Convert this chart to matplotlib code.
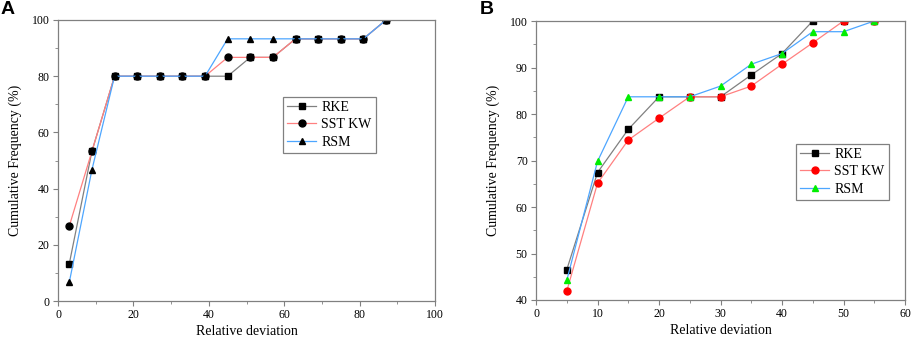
import numpy as np
import matplotlib
matplotlib.use("Agg")
import matplotlib.pyplot as plt
from matplotlib.ticker import MultipleLocator

# ---- panel A: relative deviation vs cumulative frequency ----
xa = [3, 9, 15, 21, 27, 33, 39, 45, 51, 57, 63, 69, 75, 81, 87]
rke_a = [13.3, 53.3, 80, 80, 80, 80, 80, 80, 86.7, 86.7, 93.3, 93.3, 93.3, 93.3, 100]
sst_a = [26.7, 53.3, 80, 80, 80, 80, 80, 86.7, 86.7, 86.7, 93.3, 93.3, 93.3, 93.3, 100]
rsm_a = [6.7, 46.7, 80, 80, 80, 80, 80, 93.3, 93.3, 93.3, 93.3, 93.3, 93.3, 93.3, 100]

# ---- panel B ----
xb = [5, 10, 15, 20, 25, 30, 35, 40, 45, 50, 55]
rke_b = [46.5, 67.4, 76.7, 83.7, 83.7, 83.7, 88.4, 93.0, 100, 100, 100]
sst_b = [41.9, 65.1, 74.4, 79.1, 83.7, 83.7, 86.0, 90.7, 95.3, 100, 100]
rsm_b = [44.2, 69.8, 83.7, 83.7, 83.7, 86.0, 90.7, 93.0, 97.7, 97.7, 100]

labels = ["RKE", "SST KW", "RSM"]
line_colors = ["#808080", "#ff8080", "#4da6ff"]

plt.rcParams["font.family"] = ["Liberation Serif", "DejaVu Serif"]

fig = plt.figure(figsize=(9.13, 3.39), dpi=100)
axA = fig.add_axes([58 / 913, 1 - 301 / 339, 377 / 913, 281 / 339])
axB = fig.add_axes([536 / 913, 1 - 300 / 339, 369 / 913, 279 / 339])


def style(ax):
    for s in ax.spines.values():
        s.set_color("#808080")
        s.set_linewidth(0.9)
    ax.tick_params(which="both", direction="out", color="#808080", labelsize=8.5,
                   pad=2.5)
    ax.tick_params(which="major", length=3.5, width=0.8)
    ax.tick_params(which="minor", length=2, width=0.6)
    ax.set_xlabel("Relative deviation", fontsize=10, labelpad=2.5)
    ax.set_ylabel("Cumulative Frequency (%)", fontsize=10, labelpad=7)


def add_legend(ax, anchor):
    leg = ax.legend(loc="upper left", bbox_to_anchor=anchor, fontsize=10,
                    fancybox=False, edgecolor="#808080", framealpha=1,
                    handlelength=2.1, handletextpad=0.35, labelspacing=0.3,
                    borderpad=0.3, borderaxespad=0)
    leg.get_frame().set_linewidth(0.9)
    return leg


# panel A: all markers black
markers = ["s", "o", "^"]
for ys, lab, c, m in zip([rke_a, sst_a, rsm_a], labels, line_colors, markers):
    axA.plot(xa, ys, color=c, lw=0.9, marker=m, markersize=5,
             markerfacecolor="black", markeredgecolor="black", label=lab)
axA.set_xlim(0, 100)
axA.set_ylim(0, 100)
axA.xaxis.set_major_locator(MultipleLocator(20))
axA.xaxis.set_minor_locator(MultipleLocator(10))
axA.yaxis.set_major_locator(MultipleLocator(20))
axA.yaxis.set_minor_locator(MultipleLocator(10))
style(axA)
add_legend(axA, (225 / 377, 1 - 77 / 281))

# panel B: coloured markers
mcolors = ["black", "red", "#00ee00"]
for ys, lab, c, m, mc in zip([rke_b, sst_b, rsm_b], labels, line_colors, markers, mcolors):
    axB.plot(xb, ys, color=c, lw=0.9, marker=m, markersize=5,
             markerfacecolor=mc, markeredgecolor=mc, label=lab)
axB.set_xlim(0, 60)
axB.set_ylim(40, 100)
axB.xaxis.set_major_locator(MultipleLocator(10))
axB.xaxis.set_minor_locator(MultipleLocator(5))
axB.yaxis.set_major_locator(MultipleLocator(10))
axB.yaxis.set_minor_locator(MultipleLocator(5))
style(axB)
add_legend(axB, (260 / 369, 1 - 123 / 279))

fig.text(1 / 913, 1 - 1 / 339, "A", fontsize=14, fontweight="bold",
         family="Liberation Sans", va="top", ha="left")
fig.text(480 / 913, 1 - 1 / 339, "B", fontsize=14, fontweight="bold",
         family="Liberation Sans", va="top", ha="left")

fig.savefig("out.png", dpi=100)
